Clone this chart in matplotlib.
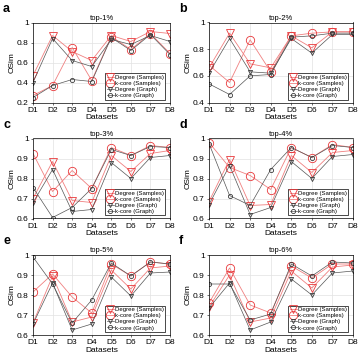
import numpy as np
import matplotlib
matplotlib.use("Agg")
import matplotlib.pyplot as plt

plt.rcParams['font.family'] = ['Liberation Sans', 'DejaVu Sans']

datasets = ["D1", "D2", "D3", "D4", "D5", "D6", "D7", "D8"]
letters = ["a", "b", "c", "d", "e", "f"]
titles = ["top-1%", "top-2%", "top-3%", "top-4%", "top-5%", "top-6%"]
ylims = [(0.2, 1), (0.4, 1), (0.6, 1), (0.6, 1), (0.6, 1), (0.6, 1)]
yticks = [[0.2, 0.4, 0.6, 0.8, 1], [0.4, 0.6, 0.8, 1],
          [0.6, 0.7, 0.8, 0.9, 1], [0.6, 0.7, 0.8, 0.9, 1],
          [0.6, 0.7, 0.8, 0.9, 1], [0.6, 0.7, 0.8, 0.9, 1]]

deg_samples = [
    [0.47, 0.87, 0.71, 0.62, 0.87, 0.81, 0.91, 0.89],
    [0.66, 0.92, 0.69, 0.66, 0.90, 0.81, 0.93, 0.93],
    [0.70, 0.885, 0.69, 0.68, 0.915, 0.835, 0.925, 0.94],
    [0.685, 0.895, 0.665, 0.67, 0.915, 0.83, 0.93, 0.94],
    [0.66, 0.895, 0.665, 0.69, 0.925, 0.83, 0.935, 0.945],
    [0.74, 0.90, 0.665, 0.685, 0.92, 0.835, 0.94, 0.95],
]
kcore_samples = [
    [0.27, 0.37, 0.75, 0.42, 0.86, 0.73, 0.89, 0.69],
    [0.68, 0.55, 0.87, 0.63, 0.90, 0.92, 0.93, 0.93],
    [0.925, 0.735, 0.84, 0.75, 0.955, 0.915, 0.965, 0.955],
    [0.98, 0.855, 0.815, 0.745, 0.955, 0.905, 0.97, 0.955],
    [0.815, 0.905, 0.79, 0.71, 0.955, 0.895, 0.965, 0.955],
    [0.76, 0.935, 0.75, 0.71, 0.945, 0.885, 0.955, 0.955],
]
deg_graph = [
    [0.40, 0.84, 0.62, 0.56, 0.83, 0.78, 0.87, 0.81],
    [0.62, 0.88, 0.63, 0.62, 0.88, 0.77, 0.91, 0.91],
    [0.68, 0.845, 0.635, 0.645, 0.88, 0.80, 0.905, 0.915],
    [0.67, 0.865, 0.62, 0.655, 0.885, 0.80, 0.91, 0.92],
    [0.655, 0.86, 0.625, 0.655, 0.89, 0.795, 0.91, 0.915],
    [0.735, 0.86, 0.625, 0.665, 0.88, 0.80, 0.91, 0.92],
]
kcore_graph = [
    [0.25, 0.37, 0.43, 0.41, 0.85, 0.72, 0.88, 0.68],
    [0.54, 0.46, 0.60, 0.61, 0.89, 0.90, 0.92, 0.92],
    [0.755, 0.605, 0.655, 0.75, 0.945, 0.915, 0.96, 0.955],
    [0.975, 0.715, 0.665, 0.845, 0.955, 0.905, 0.965, 0.955],
    [0.99, 0.855, 0.66, 0.775, 0.96, 0.895, 0.965, 0.955],
    [0.855, 0.855, 0.675, 0.705, 0.955, 0.895, 0.965, 0.96],
]

W, H = 359, 355
fig = plt.figure(figsize=(W / 100, H / 100), dpi=100)

col_x = [33, 209]
col_w = [137, 144]
row_top = [22.5, 138.5, 255]
ax_h = 80

red = "#e8383a"
red_line = "#f08080"
gray = "#3a3a3a"
gray_line = "#555555"
x = np.arange(1, 9)

for i in range(6):
    r, c = divmod(i, 2)
    ax = fig.add_axes([col_x[c] / W, 1 - (row_top[r] + ax_h) / H,
                       col_w[c] / W, ax_h / H])
    ax.plot(x, deg_samples[i], color=red_line, lw=0.6, marker="v", ms=6,
            mfc="none", mec=red, mew=0.6, label="Degree (Samples)")
    ax.plot(x, kcore_samples[i], color=red_line, lw=0.6, marker="o", ms=6,
            mfc="none", mec=red, mew=0.6, label="k-core (Samples)")
    ax.plot(x, deg_graph[i], color=gray_line, lw=0.5, marker="v", ms=3,
            mfc="none", mec=gray, mew=0.6, label="Degree (Graph)")
    ax.plot(x, kcore_graph[i], color=gray_line, lw=0.5, marker="o", ms=3,
            mfc="none", mec=gray, mew=0.6, label="k-core (Graph)")
    ax.set_xlim(1, 8)
    ax.set_ylim(*ylims[i])
    ax.set_xticks(x)
    ax.set_xticklabels(datasets)
    ax.set_yticks(yticks[i])
    ax.set_yticklabels([("%g" % v) for v in yticks[i]])
    ax.grid(True, color="#e2e2e2", lw=0.5)
    ax.tick_params(labelsize=6, length=1.5, width=0.4, pad=1.5)
    for s in ax.spines.values():
        s.set_linewidth(0.5)
    ax.set_title(titles[i], fontsize=5.5, pad=2)
    ax.set_ylabel("OSim", fontsize=6, labelpad=1)
    ax.set_xlabel("Datasets", fontsize=6, labelpad=0.5)
    leg = ax.legend(loc="lower right", fontsize=4.3, frameon=True,
                    fancybox=False, edgecolor="black", borderpad=0.25,
                    labelspacing=0.15, handlelength=1.2, handletextpad=0.1,
                    bbox_to_anchor=(1 - 5 / col_w[c], 3 / ax_h),
                    borderaxespad=0, framealpha=1)
    leg.get_frame().set_linewidth(0.5)
    fig.text((col_x[c] - 30) / W, 1 - (row_top[r] - 20) / H, letters[i],
             fontsize=9, fontweight="bold", va="top")

fig.savefig("out.png", dpi=100)
